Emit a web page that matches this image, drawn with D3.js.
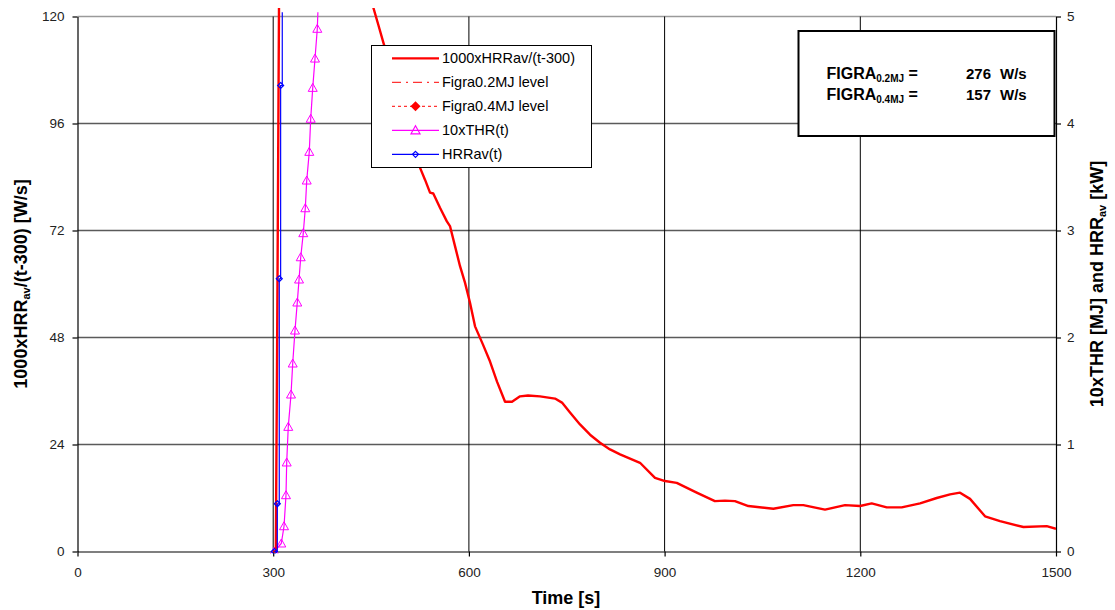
<!DOCTYPE html>
<html><head><meta charset="utf-8">
<script src="https://cdn.jsdelivr.net/npm/d3@7"></script>
<style>
body{margin:0;background:#fff;}
text{font-family:"Liberation Sans",Arial,sans-serif;}
</style>
</head><body>
<svg id="c" width="1115" height="610"></svg>
<script>
// ---------- data ----------
const xTicks = [0, 300, 600, 900, 1200, 1500];
const yLeftTicks = [0, 24, 48, 72, 96, 120];
const yRightTicks = [0, 1, 2, 3, 4, 5];

// 1000xHRRav/(t-300) [W/s]  (left axis)
const figraTime = [300,304,306,307.5,309,315,360,420,445,453.5,461,469,490,510,525,532.7,540.4,545.4,555.7,566,571,578.7,586.4,594,601.7,609.4,621.6,632.4,643.1,655.4,666.1,678.4,690.6,709,732,742.7,755,770.3,785.7,801,816.3,831.7,862.3,885.3,900.6,918.6,949.2,977.1,992.5,1007.8,1028.4,1066.7,1097.3,1112.7,1145.9,1176.6,1199.6,1217.5,1240.5,1263.5,1291.6,1317.2,1337.6,1352.9,1368.2,1391.2,1414.2,1450,1485.8,1500];
const figraVal  = [0,0,45,85,125,300,220,150,126,122,118.2,114.1,104,93,86.1,83.4,80.5,80.3,77.1,74.1,73,68.5,64,60.3,55.8,50.5,46.4,42.6,38.1,33.6,33.6,34.8,35,34.8,34.3,33.4,31.2,28.5,26.2,24.4,22.9,21.8,19.9,16.5,15.8,15.4,13.2,11.3,11.4,11.3,10.2,9.6,10.4,10.4,9.4,10.4,10.2,10.8,9.9,9.9,10.8,12.0,12.8,13.2,11.8,7.9,6.8,5.5,5.7,5.1];

// 10xTHR(t) [MJ]  (right axis)
const thrTime = [301.7,312.4,316.6,319.6,320.7,323.1,327.3,329.9,333.4,336.9,339.6,342.2,346.1,349.2,351.4,355.3,357.5,360.6,364.1,367.6,368.5];
const thrVal  = [0,0.075,0.236,0.526,0.832,1.165,1.467,1.757,2.065,2.327,2.542,2.750,2.975,3.208,3.467,3.735,4.044,4.333,4.607,4.885,5.04];

// HRRav(t) [kW]  (right axis)
const hrrTime = [301.7,306.3,309.3,311.4,313.9];
const hrrVal  = [0,0.446,2.549,4.355,5.04];

const legendLabels = ["1000xHRRav/(t-300)", "Figra0.2MJ level", "Figra0.4MJ level", "10xTHR(t)", "HRRav(t)"];
const figraLabels = ["0.2MJ", "0.4MJ"];
const figraValues = [276, 157];

// ---------- layout ----------
const svg = d3.select("#c");
const L = 77.5, R = 1056, T = 16.5, B = 551.5;
const x = d3.scaleLinear().domain([0,1500]).range([L,R]);
const yL = d3.scaleLinear().domain([0,120]).range([B,T]);
const yR = d3.scaleLinear().domain([0,5]).range([B,T]);

// gridlines
svg.append("g").selectAll("line").data(yLeftTicks.filter(d=>d>0)).join("line")
  .attr("x1",L).attr("x2",R).attr("y1",d=>yL(d)).attr("y2",d=>yL(d))
  .attr("stroke",d=>d===120?"#9a9a9a":"#5a5a5a").attr("stroke-width",1.5);
svg.append("g").selectAll("line").data(xTicks.filter(d=>d>0&&d<1500)).join("line")
  .attr("x1",d=>x(d)).attr("x2",d=>x(d)).attr("y1",T).attr("y2",B)
  .attr("stroke","#000").attr("stroke-width",1);

// axes
const fmt = d3.format("d");
function styleAxis(g){
  g.select(".domain").attr("stroke","#000").attr("stroke-width",1.2);
  g.selectAll(".tick line").attr("stroke","#000").attr("stroke-width",1.2);
  g.selectAll(".tick text").attr("font-size",13.5).attr("fill","#222")
    .attr("font-family","'Liberation Sans',Arial,sans-serif");
}
svg.append("g").attr("transform",`translate(${L},0)`)
  .call(d3.axisLeft(yL).tickValues(yLeftTicks).tickFormat(fmt).tickSize(5).tickPadding(8).tickSizeOuter(0)).call(styleAxis);
svg.append("g").attr("transform",`translate(${R},0)`)
  .call(d3.axisRight(yR).tickValues(yRightTicks).tickFormat(fmt).tickSize(5).tickPadding(6).tickSizeOuter(0)).call(styleAxis);
svg.append("g").attr("transform",`translate(0,${B})`)
  .call(d3.axisBottom(x).tickValues(xTicks).tickFormat(fmt).tickSize(5).tickPadding(11).tickSizeOuter(0)).call(styleAxis);

// clip
svg.append("defs").append("clipPath").attr("id","clip").append("rect")
  .attr("x",L).attr("y",8).attr("width",R-L).attr("height",B-8+2);
const plot = svg.append("g").attr("clip-path","url(#clip)");

const thr = thrTime.map((t,i)=>({t,v:thrVal[i]}));
const hrr = hrrTime.map((t,i)=>({t,v:hrrVal[i]}));
const fig = figraTime.map((t,i)=>({t,v:figraVal[i]}));

const triPath = "M0,-4.5L4.5,3.5L-4.5,3.5Z";
const diaPath = "M0,-3L3,0L0,3L-3,0Z";

// THR
plot.append("path").datum(thr)
  .attr("d",d3.line().x(d=>x(d.t)).y(d=>yR(d.v)))
  .attr("fill","none").attr("stroke","#ff00ff").attr("stroke-width",1.2);
plot.append("g").selectAll("path").data(thr.slice(0,-1)).join("path")
  .attr("transform",d=>`translate(${x(d.t)},${yR(d.v)})`).attr("d",triPath)
  .attr("fill","none").attr("stroke","#ff00ff").attr("stroke-width",1);

// red
plot.append("path").datum(fig)
  .attr("d",d3.line().x(d=>x(d.t)).y(d=>yL(d.v)))
  .attr("fill","none").attr("stroke","#ff0000").attr("stroke-width",2.4).attr("stroke-linejoin","round");

// HRR
plot.append("path").datum(hrr)
  .attr("d",d3.line().x(d=>x(d.t)).y(d=>yR(d.v)).curve(d3.curveStepAfter))
  .attr("fill","none").attr("stroke","#0000ff").attr("stroke-width",1.2);
plot.append("g").selectAll("path").data(hrr.slice(0,-1)).join("path")
  .attr("transform",d=>`translate(${x(d.t)},${yR(d.v)})`).attr("d",diaPath)
  .attr("fill","none").attr("stroke","#0000ff").attr("stroke-width",1.2);

// legend
const lg = svg.append("g");
lg.append("rect").attr("x",371.5).attr("y",45.5).attr("width",220).attr("height",122)
  .attr("fill","#fff").attr("stroke","#000").attr("stroke-width",1);
const rowY = i => 58.3 + i*24;
const lx1 = 392, lx2 = 439, lxm = 415.5;
const styles = [
  {stroke:"#ff0000", w:2.2, dash:null},
  {stroke:"#ff0000", w:1, dash:"9,5,2,5"},
  {stroke:"#ff0000", w:1, dash:"3,3"},
  {stroke:"#ff00ff", w:1.2, dash:null},
  {stroke:"#0000ff", w:1.2, dash:null}
];
legendLabels.forEach((lab,i)=>{
  const s = styles[i];
  lg.append("line").attr("x1",lx1).attr("x2",lx2).attr("y1",rowY(i)).attr("y2",rowY(i))
    .attr("stroke",s.stroke).attr("stroke-width",s.w).attr("stroke-dasharray",s.dash);
  lg.append("text").attr("x",442).attr("y",rowY(i)).attr("dy","0.35em")
    .attr("font-size",14.5).attr("fill","#000").text(lab);
});
lg.append("path").attr("transform",`translate(${lxm},${rowY(2)})`).attr("d","M0,-5L5,0L0,5L-5,0Z").attr("fill","#ff0000");
lg.append("path").attr("transform",`translate(${lxm},${rowY(3)})`).attr("d",triPath)
  .attr("fill","none").attr("stroke","#ff00ff").attr("stroke-width",1.2);
lg.append("path").attr("transform",`translate(${lxm},${rowY(4)})`).attr("d",diaPath)
  .attr("fill","none").attr("stroke","#0000ff").attr("stroke-width",1.2);

// FIGRA box
const fb = svg.append("g");
fb.append("rect").attr("x",798.5).attr("y",31).attr("width",256).attr("height",105)
  .attr("fill","#fff").attr("stroke","#000").attr("stroke-width",2);
figraLabels.forEach((lab,i)=>{
  const yy = 78.5 + i*21.5;
  const t = fb.append("text").attr("x",826.5).attr("y",yy).attr("font-size",16).attr("font-weight","bold");
  t.append("tspan").text("FIGRA");
  t.append("tspan").attr("font-size",10).attr("dy",3).text(lab);
  t.append("tspan").attr("dy",-3).text(" =");
  fb.append("text").attr("x",991).attr("y",yy).attr("text-anchor","end").attr("font-size",15)
    .attr("font-weight","bold").text(figraValues[i]);
  fb.append("text").attr("x",1000).attr("y",yy).attr("font-size",15).attr("font-weight","bold").text("W/s");
});

// axis titles
svg.append("text").attr("x",566).attr("y",604).attr("text-anchor","middle")
  .attr("font-size",18).attr("font-weight","bold").text("Time [s]");
const lt = svg.append("text").attr("transform",`translate(27,${(T+B)/2}) rotate(-90)`)
  .attr("text-anchor","middle").attr("font-size",18).attr("font-weight","bold");
lt.append("tspan").text("1000xHRR");
lt.append("tspan").attr("font-size",11).attr("dy",3).text("av");
lt.append("tspan").attr("dy",-3).text("/(t-300) [W/s]");
const rt = svg.append("text").attr("transform",`translate(1103,${(T+B)/2}) rotate(-90)`)
  .attr("text-anchor","middle").attr("font-size",18).attr("font-weight","bold");
rt.append("tspan").text("10xTHR [MJ] and HRR");
rt.append("tspan").attr("font-size",11).attr("dy",3).text("av");
rt.append("tspan").attr("dy",-3).text(" [kW]");
</script>
</body></html>
